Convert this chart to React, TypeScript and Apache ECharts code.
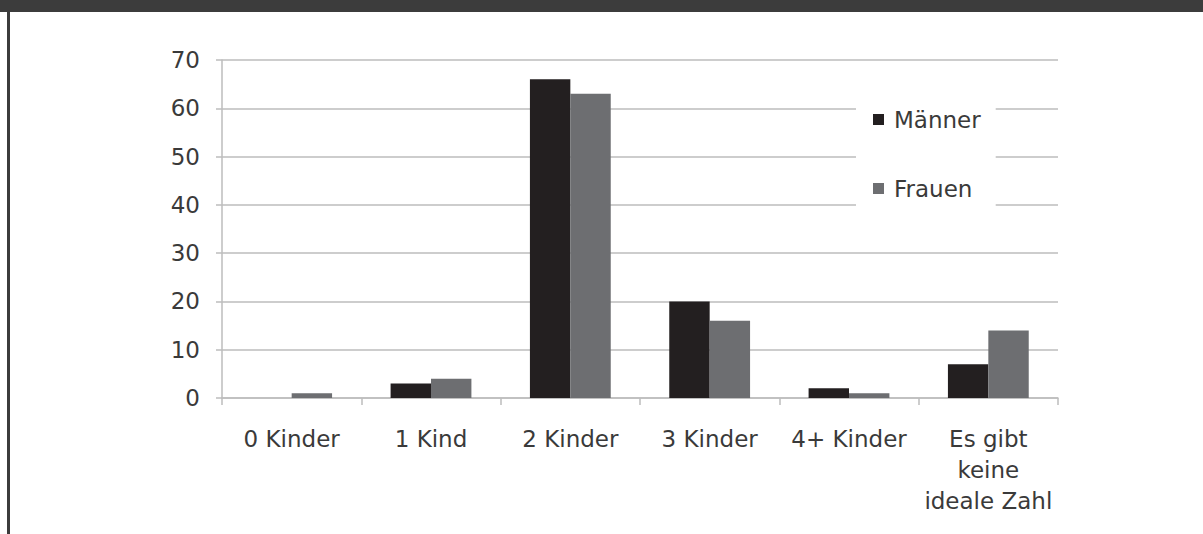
import React, { useEffect, useRef } from "react";
import * as echarts from "echarts";

const categories = ["0 Kinder", "1 Kind", "2 Kinder", "3 Kinder", "4+ Kinder", "Es gibt\nkeine\nideale Zahl"];
const maenner = [0, 3, 66, 20, 2, 7];
const frauen = [1, 4, 63, 16, 1, 14];
const yTicks = { min: 0, max: 70, interval: 10 };

const FONT = "DejaVu Sans";
const TEXT = "#3a3a3a";
const GRID = "#bdbdbd";
const FS = 23;

export default function App() {
  const ref = useRef<HTMLDivElement>(null);
  useEffect(() => {
    if (!ref.current) return;
    const chart = echarts.init(ref.current, null, { renderer: "svg" });
    chart.setOption({
      animation: false,
      backgroundColor: "#ffffff",
      textStyle: { fontFamily: FONT },
      graphic: [
        { type: "rect", left: 0, top: 0, shape: { width: 1203, height: 12 }, style: { fill: "#3c3c3c" } },
        { type: "rect", left: 7, top: 12, shape: { width: 3, height: 522 }, style: { fill: "#3c3c3c" } },
      ],
      grid: { left: 222, right: 145, top: 60, bottom: 136 },
      legend: {
        orient: "vertical",
        left: 856,
        top: 100,
        padding: [8, 15, 17, 17],
        backgroundColor: "#ffffff",
        itemWidth: 11,
        itemHeight: 11,
        itemGap: 46,
        icon: "rect",
        textStyle: { fontFamily: FONT, fontSize: FS, color: TEXT, padding: [0, 0, 0, 5] },
        data: ["Männer", "Frauen"],
      },
      xAxis: {
        type: "category",
        data: categories,
        axisLine: { lineStyle: { color: GRID, width: 1.5 } },
        axisTick: { show: true, length: 7, lineStyle: { color: GRID, width: 1.5 } },
        axisLabel: { fontFamily: FONT, fontSize: FS, color: TEXT, margin: 25, lineHeight: 31, interval: 0 },
      },
      yAxis: {
        type: "value",
        min: yTicks.min,
        max: yTicks.max,
        interval: yTicks.interval,
        axisLine: { show: true, lineStyle: { color: GRID, width: 1.5 } },
        axisTick: { show: true, length: 6, lineStyle: { color: GRID, width: 1.5 } },
        splitLine: { lineStyle: { color: GRID, width: 1.5 } },
        axisLabel: { fontFamily: FONT, fontSize: FS, color: TEXT, margin: 22 },
      },
      series: [
        { name: "Männer", type: "bar", data: maenner, barGap: "0%", barCategoryGap: "42%", itemStyle: { color: "#231f20" } },
        { name: "Frauen", type: "bar", data: frauen, barGap: "0%", barCategoryGap: "42%", itemStyle: { color: "#6d6e71" } },
      ],
    });
    return () => chart.dispose();
  }, []);
  return <div ref={ref} style={{ position: "fixed", left: 0, top: 0, width: 1203, height: 534 }} />;
}
